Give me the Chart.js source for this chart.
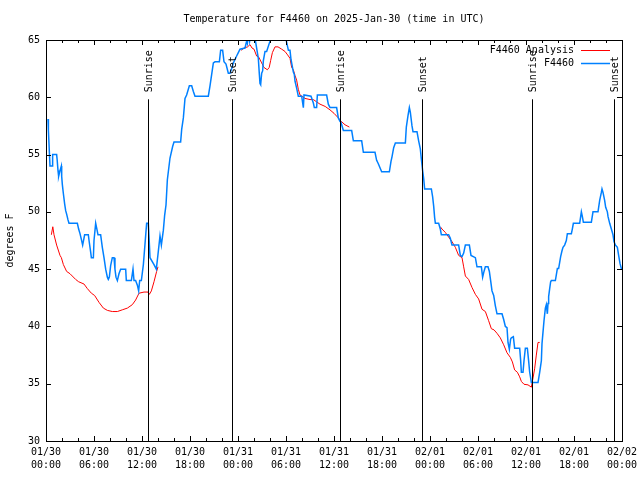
<!DOCTYPE html>
<html>
<head>
<meta charset="utf-8">
<title>Temperature for F4460</title>
<script src="https://cdn.jsdelivr.net/npm/chart.js@4.4.1/dist/chart.umd.min.js"></script>
<style>
  html, body { margin: 0; padding: 0; background: #fff; }
  canvas { display: block; }
</style>
</head>
<body>
<canvas id="temp-chart" width="640" height="480"></canvas>
<script>
// =====================
// Data (hours since 2025-01-30 00:00 UTC)
// =====================
const chartTitle = "Temperature for F4460 on 2025-Jan-30 (time in UTC)";
const yAxisTitle = "degrees F";

const tickDates = ["01/30", "01/30", "01/30", "01/30", "01/31", "01/31", "01/31",
                   "01/31", "02/01", "02/01", "02/01", "02/01", "02/02"];
const tickTimes = ["00:00", "06:00", "12:00", "18:00", "00:00", "06:00", "12:00",
                   "18:00", "00:00", "06:00", "12:00", "18:00", "00:00"];

const sunHours = [12.8, 23.2, 36.75, 47.05, 60.8, 71.05];
const sunLabels = ["Sunrise", "Sunset", "Sunrise", "Sunset", "Sunrise", "Sunset"];

// observed station temps
const obsHours = [
  0.25, 0.3, 0.5, 0.75, 0.83, 1.33, 1.4, 1.5, 1.58, 1.75, 1.92, 1.96, 2.04, 2.17,
  2.33, 2.46, 2.58, 2.75, 2.875, 3.92, 4.08, 4.25, 4.42, 4.58, 4.83, 5.29, 5.38,
  5.58, 5.67, 5.92, 6.0, 6.21, 6.33, 6.5, 6.83, 7.04, 7.25, 7.46, 7.67, 7.79, 7.92,
  8.08, 8.29, 8.5, 8.62, 8.75, 8.92, 9.12, 9.33, 9.96, 10.04, 10.67, 10.875, 11.0,
  11.2, 11.42, 11.58, 11.71, 11.92, 12.17, 12.375, 12.58, 12.79, 12.9, 13.0, 13.5,
  13.79, 14.0, 14.25, 14.42, 14.67, 14.83, 15.0, 15.17, 15.5, 15.83, 16.0, 16.83,
  16.96, 17.17, 17.375, 17.58, 17.92, 18.21, 18.42, 18.625, 20.29, 20.5, 20.71,
  20.92, 21.125, 21.67, 21.83, 22.08, 22.25, 22.5, 22.79, 23.0, 23.2, 23.42, 23.83,
  24.04, 24.25, 24.875, 25.08, 25.17, 25.29, 25.45, 25.58, 25.8, 26.04, 26.33,
  26.54, 26.67, 26.75, 26.83, 26.96, 27.08, 27.17, 27.375, 27.58, 28.0, 28.2,
  29.875, 30.08, 30.3, 30.5, 30.625, 30.92, 31.04, 31.125, 31.33, 31.54, 31.96,
  32.17, 32.25, 33.125, 33.42, 33.54, 33.83, 33.92, 35.08, 35.29, 35.5, 36.33,
  36.54, 36.75, 36.875, 37.17, 38.21, 38.42, 39.46, 39.67, 41.125, 41.33, 41.54,
  41.96, 42.92, 43.125, 43.25, 43.46, 43.67, 44.92, 45.04, 45.25, 45.42, 45.54,
  45.75, 45.875, 46.375, 46.58, 46.79, 46.92, 47.08, 47.21, 47.33, 48.17, 48.33,
  48.46, 48.58, 48.67, 49.08, 49.29, 49.42, 50.33, 50.54, 50.75, 51.58, 51.79,
  52.0, 52.21, 52.42, 52.92, 53.125, 53.67, 53.875, 54.42, 54.58, 54.75, 54.92,
  55.25, 55.42, 55.58, 55.75, 55.96, 56.17, 56.375, 57.0, 57.21, 57.42, 57.625,
  57.75, 57.92, 58.08, 58.17, 58.42, 58.58, 59.21, 59.33, 59.42, 59.625, 59.75,
  59.92, 60.17, 60.33, 60.46, 60.58, 60.67, 61.5, 61.71, 61.92, 62.0, 62.125,
  62.25, 62.42, 62.54, 62.67, 62.75, 62.83, 62.96, 63.08, 63.17, 63.67, 63.79,
  63.92, 64.08, 64.21, 64.33, 64.5, 64.625, 64.83, 65.04, 65.17, 65.67, 65.79,
  65.92, 66.71, 66.92, 67.04, 67.17, 68.17, 68.375, 69.0, 69.21, 69.42, 69.5,
  69.625, 69.83, 69.96, 70.17, 70.25, 70.46, 70.67, 70.875, 71.0, 71.17, 71.42,
  71.58, 71.75, 71.92, 72.0
];
const obsTemps = [
  58.1, 57.1, 54.0, 54.0, 55.0, 55.0, 54.5, 53.6, 53.1, 53.6, 54.0, 53.1, 52.4, 51.6,
  50.7, 50.1, 49.8, 49.3, 49.0, 49.0, 48.5, 48.1, 47.6, 47.1, 48.0, 48.0, 47.5,
  46.5, 46.0, 46.0, 47.5, 49.0, 48.6, 48.0, 48.0, 46.9, 46.0, 45.0, 44.3, 44.1, 44.3,
  45.3, 46.0, 46.0, 45.0, 44.3, 44.0, 44.6, 45.0, 45.0, 44.0, 44.0, 45.0, 44.0,
  44.0, 43.6, 43.1, 44.0, 44.0, 45.4, 47.2, 49.0, 49.0, 47.5, 46.0, 45.4,
  45.0, 46.3, 47.9, 47.1, 48.4, 49.7, 50.6, 52.8, 54.7, 55.7, 56.1, 56.1,
  57.2, 58.2, 59.9, 60.2, 61.0, 61.0, 60.5, 60.1, 60.1, 61.0, 62.0,
  63.0, 63.1, 63.1, 64.1, 64.1, 63.1, 62.9, 62.1, 62.1, 62.5, 63.0, 63.6,
  63.9, 64.2, 64.3, 64.9, 64.7, 65.5, 64.9, 65.5, 65.5, 65.5, 64.3,
  63.4, 62.0, 61.2, 61.1, 62.1, 62.3, 63.2, 64.0, 64.0, 64.9, 65.5,
  65.5, 64.8, 64.1, 64.1, 63.3, 62.2, 62.0, 61.4, 60.8, 60.1, 60.1,
  59.1, 60.2, 60.1, 59.5, 59.1, 59.1, 60.2, 60.2, 59.4, 59.1, 59.1,
  58.2, 57.9, 57.8, 57.1, 57.1, 56.2, 56.2, 55.2, 55.2, 54.5, 54.2,
  53.5, 53.5, 54.4, 54.8, 55.6, 56.0, 56.0, 57.4, 58.4, 59.1, 58.7,
  57.5, 57.0, 57.0, 56.2, 55.5, 54.6, 53.6, 52.9, 52.0, 52.0, 51.3,
  50.5, 49.5, 49.0, 49.0, 48.5, 48.0, 48.0, 47.7, 47.1, 47.1, 46.2,
  46.1, 46.4, 47.1, 47.1, 46.2, 46.0, 45.2, 45.2, 44.3, 44.8, 45.2,
  45.2, 44.8, 44.0, 43.1, 42.7, 41.8, 41.1, 41.1, 40.6, 40.0, 39.9,
  38.6, 38.0, 38.9, 39.0, 39.1, 38.1, 38.1, 37.05, 36.0, 36.0, 37.0,
  38.1, 38.1, 37.0, 36.0, 35.5, 35.1, 35.1, 36.0, 37.0, 38.5, 39.5,
  40.5, 41.6, 41.9, 41.1, 42.0, 42.6, 43.3, 43.9, 44.0, 44.0, 44.5,
  45.05, 45.05, 45.6, 46.1, 46.6, 46.9, 47.1, 47.5, 48.1, 48.1, 48.5,
  49.0, 49.0, 50.0, 49.6, 49.1, 49.1, 50.0, 50.0, 51.0, 51.7, 52.0,
  51.7, 51.0, 50.4, 50.0, 49.6, 49.0, 48.5, 48.0, 47.4, 47.1, 46.9,
  46.2, 45.5, 45.05, 45.0
];

// analysis temps (null = gap)
const anaHours = [
  0.67, 0.85, 1.0, 1.33, 1.75, 1.92, 2.17, 2.58, 3.0, 3.71, 4.08, 4.75, 5.17, 5.67,
  6.08, 6.625, 7.17, 7.67, 8.29, 8.92, 9.54, 10.17, 10.79, 11.2, 11.625, 12.25,
  12.75, 12.92, 13.17, 13.5, 13.83, 14.0,
  19.0,
  24.4, 24.75, 25.2, 25.5, 25.75, 26.0, 26.33, 26.6, 26.96, 27.25, 27.67, 27.9,
  28.08, 28.3, 28.625, 29.0, 29.46, 29.875, 30.2, 30.5, 30.71, 30.92, 31.125,
  31.33, 31.54, 31.75, 32.375, 33.0, 33.42, 33.83, 34.25, 34.9, 35.5, 36.0,
  36.54, 36.9, 37.375, 37.92,
  43.0,
  49.29, 49.5, 49.92, 50.33, 50.75, 51.17, 51.58, 52.0, 52.21, 52.42, 52.83,
  53.25, 53.67, 54.08, 54.5, 54.92, 55.33, 55.67, 56.0, 56.375, 56.79, 57.21,
  57.625, 58.04, 58.3, 58.58, 58.92, 59.21, 59.42, 59.75, 60.25, 60.67, 60.875,
  61.08, 61.29, 61.5, 61.71
];
const anaTemps = [
  48.0, 48.7, 48.0, 47.1, 46.2, 46.0, 45.4, 44.8, 44.6, 44.1, 43.9, 43.7, 43.3, 42.9,
  42.7, 42.1, 41.6, 41.4, 41.3, 41.3, 41.45, 41.6, 41.9, 42.3, 42.9, 43.0,
  43.0, 42.8, 43.1, 43.9, 44.8, 45.2,
  null,
  64.1, 64.3, 64.4, 64.6, 64.3, 64.2, 63.6, 63.5, 63.0, 62.6, 62.4, 62.6,
  63.2, 63.9, 64.4, 64.4, 64.2, 64.0, 63.7, 63.4, 62.6, 62.4, 61.9,
  61.5, 60.7, 60.2, 59.9, 59.8, 59.8, 59.6, 59.4, 59.2, 58.9, 58.6,
  58.2, 57.9, 57.6, 57.4,
  null,
  48.7, 48.5, 48.2, 47.8, 47.4, 46.9, 46.2, 46.0, 45.2, 44.4, 44.1,
  43.4, 42.8, 42.4, 41.5, 41.3, 40.5, 39.8, 39.7, 39.4, 39.0, 38.4,
  37.7, 37.3, 36.9, 36.2, 36.0, 35.6, 35.2, 34.95, 34.9, 34.7, 35.5,
  36.3, 37.5, 38.6, 38.6
];

// =====================
// Helpers
// =====================
const FONT = "DejaVu Sans Mono";

function toPoints(hours, temps) {
  return hours.map((h, i) => ({ x: h, y: temps[i] }));
}

function line(ctx, x1, y1, x2, y2) {
  ctx.beginPath();
  ctx.moveTo(x1, y1);
  ctx.lineTo(x2, y2);
  ctx.stroke();
}

// gnuplot-ish frame: border, inward ticks, sun markers, title, legend
const gnuplotFrame = {
  id: "gnuplotFrame",
  afterDatasetsDraw(chart) {
    const { ctx, chartArea: a } = chart;
    const xs = chart.scales.x;
    const ys = chart.scales.y;
    ctx.save();
    ctx.strokeStyle = "#000";
    ctx.fillStyle = "#000";
    ctx.lineWidth = 1;
    ctx.font = "10px '" + FONT + "'";

    // sunrise / sunset markers
    const topY = ys.getPixelForValue(60);
    sunHours.forEach((h, i) => {
      const px = Math.round(xs.getPixelForValue(h)) + 0.5;
      line(ctx, px, topY + 2, px, a.bottom);
      ctx.save();
      ctx.translate(px + 1, topY - 5);
      ctx.rotate(-Math.PI / 2);
      ctx.textAlign = "left";
      ctx.textBaseline = "middle";
      ctx.fillText(sunLabels[i], 0, 0);
      ctx.restore();
    });

    // border
    ctx.strokeRect(a.left + 0.5, a.top + 0.5, a.right - a.left, a.bottom - a.top);

    // x ticks (major 6h, minor 2h), mirrored on top
    for (let h = 0; h <= 72; h += 2) {
      const len = h % 6 === 0 ? 5 : 3;
      const px = Math.round(xs.getPixelForValue(h)) + 0.5;
      line(ctx, px, a.bottom, px, a.bottom - len);
      line(ctx, px, a.top, px, a.top + len);
    }
    // y ticks, mirrored on right
    for (let v = 30; v <= 65; v += 5) {
      const py = Math.round(ys.getPixelForValue(v)) + 0.5;
      line(ctx, a.left, py, a.left + 5, py);
      line(ctx, a.right, py, a.right - 5, py);
    }

    // title
    ctx.textAlign = "center";
    ctx.textBaseline = "middle";
    ctx.fillText(chartTitle, (a.left + a.right) / 2, 19);

    // y axis title
    ctx.save();
    ctx.translate(10, (a.top + a.bottom) / 2);
    ctx.rotate(-Math.PI / 2);
    ctx.fillText(yAxisTitle, 0, 0);
    ctx.restore();

    // legend
    chart.data.datasets.forEach((ds, i) => {
      const ly = 50 + i * 13;
      ctx.textAlign = "right";
      ctx.fillStyle = "#000";
      ctx.fillText(ds.label, 574, ly);
      ctx.strokeStyle = ds.borderColor;
      ctx.lineWidth = ds.borderWidth;
      line(ctx, 581, ly + 0.5, 610, ly + 0.5);
    });
    ctx.restore();
  }
};

// =====================
// Chart
// =====================
function renderChart() {
  const ctx = document.getElementById("temp-chart").getContext("2d");

  new Chart(ctx, {
    type: "line",
    data: {
      datasets: [
        {
          label: "F4460 Analysis",
          data: toPoints(anaHours, anaTemps),
          borderColor: "#ff0000",
          borderWidth: 1,
          pointRadius: 0,
          spanGaps: false,
          clip: 0,
          order: 1
        },
        {
          label: "F4460",
          data: toPoints(obsHours, obsTemps),
          borderColor: "rgb(0, 128, 255)",
          borderWidth: 1.5,
          pointRadius: 0,
          clip: 0,
          order: 0
        }
      ]
    },
    options: {
      responsive: false,
      animation: false,
      devicePixelRatio: 1,
      layout: { padding: { top: 40, right: 18, left: 0, bottom: 0 } },
      plugins: {
        legend: { display: false },
        title: { display: false },
        tooltip: { enabled: false }
      },
      scales: {
        x: {
          type: "linear",
          min: 0,
          max: 72,
          grid: { display: false, drawTicks: false },
          border: { display: false },
          afterFit: (scale) => {
            scale.height = 39;
            scale.paddingLeft = 0;
            scale.paddingRight = 0;
          },
          ticks: {
            stepSize: 6,
            autoSkip: false,
            maxRotation: 0,
            padding: 5,
            color: "#000",
            font: { family: FONT, size: 10, lineHeight: "13px" },
            callback: (value) => {
              const i = Math.round(value / 6);
              return [tickDates[i], tickTimes[i]];
            }
          }
        },
        y: {
          min: 30,
          max: 65,
          grid: { display: false, drawTicks: false },
          border: { display: false },
          afterFit: (scale) => {
            scale.width = 46;
            scale.paddingTop = 0;
            scale.paddingBottom = 0;
          },
          ticks: {
            stepSize: 5,
            padding: 6,
            color: "#000",
            font: { family: FONT, size: 10 },
            callback: (value) => String(value)
          }
        }
      }
    },
    plugins: [gnuplotFrame]
  });
}

document.addEventListener("DOMContentLoaded", renderChart);
</script>
</body>
</html>
